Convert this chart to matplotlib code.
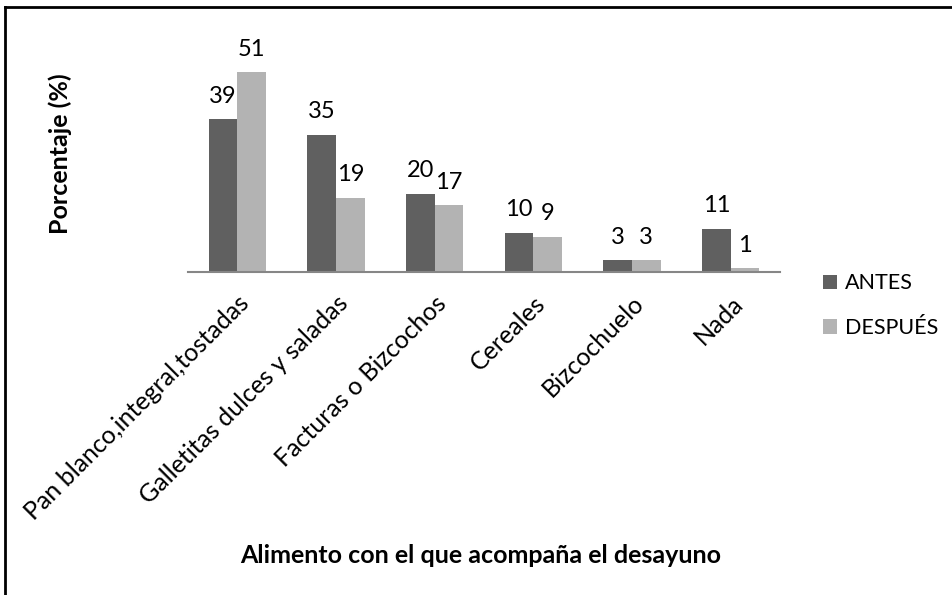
import numpy as np
import matplotlib.pyplot as plt
from matplotlib.lines import Line2D

plt.rcParams['font.family'] = ['Lato', 'DejaVu Sans']

categorias = ['Pan blanco,integral,tostadas', 'Galletitas dulces y saladas',
              'Facturas o Bizcochos', 'Cereales', 'Bizcochuelo', 'Nada']
antes = [39, 35, 20, 10, 3, 11]
despues = [51, 19, 17, 9, 3, 1]

col_antes = '#606060'
col_despues = '#b3b3b3'

fig = plt.figure(figsize=(9.53, 5.95), dpi=100)
ax = fig.add_axes([0.1973, 0.5429, 0.6212, 0.4235])

x = np.arange(len(categorias))
w = 0.29
b1 = ax.bar(x - w/2, antes, w, color=col_antes, label='ANTES')
b2 = ax.bar(x + w/2, despues, w, color=col_despues, label='DESPUÉS')

for bars, vals in ((b1, antes), (b2, despues)):
    for r, v in zip(bars, vals):
        ax.text(r.get_x() + r.get_width()/2, v + 3.2, str(v),
                ha='center', va='bottom', fontsize=17)

ax.set_xlim(-0.5, len(categorias) - 0.5)
ax.set_ylim(0, 64.3)
ax.set_yticks([])
for s in ['top', 'right', 'left']:
    ax.spines[s].set_visible(False)
ax.spines['bottom'].set_color('#868686')
ax.spines['bottom'].set_linewidth(1.5)

ax.set_xticks(x)
ax.set_xticklabels(categorias, rotation=45, ha='right', rotation_mode='anchor', fontsize=18)
ax.tick_params(axis='x', length=0, pad=14)

fig.text(0.063, 0.741, 'Porcentaje (%)', rotation=90, ha='center', va='center',
         fontsize=18, fontweight='bold')
fig.text(0.504, 0.067, 'Alimento con el que acompaña el desayuno', ha='center',
         va='center', fontsize=18, fontweight='bold')

fig.legend(handles=[b1, b2], loc='center left', bbox_to_anchor=(0.848, 0.486),
           frameon=False, fontsize=15.5, handlelength=0.65, handleheight=0.65,
           handletextpad=0.35, labelspacing=1.15, borderpad=0.2)

# borde del grafico (solo arriba e izquierda visibles)
fig.add_artist(Line2D([5/953, 5/953], [0, 1 - 7/595], transform=fig.transFigure,
                      color='black', linewidth=2))
fig.add_artist(Line2D([5/953, 1], [1 - 7/595, 1 - 7/595], transform=fig.transFigure,
                      color='black', linewidth=2))

fig.savefig('out.png', dpi=100)
